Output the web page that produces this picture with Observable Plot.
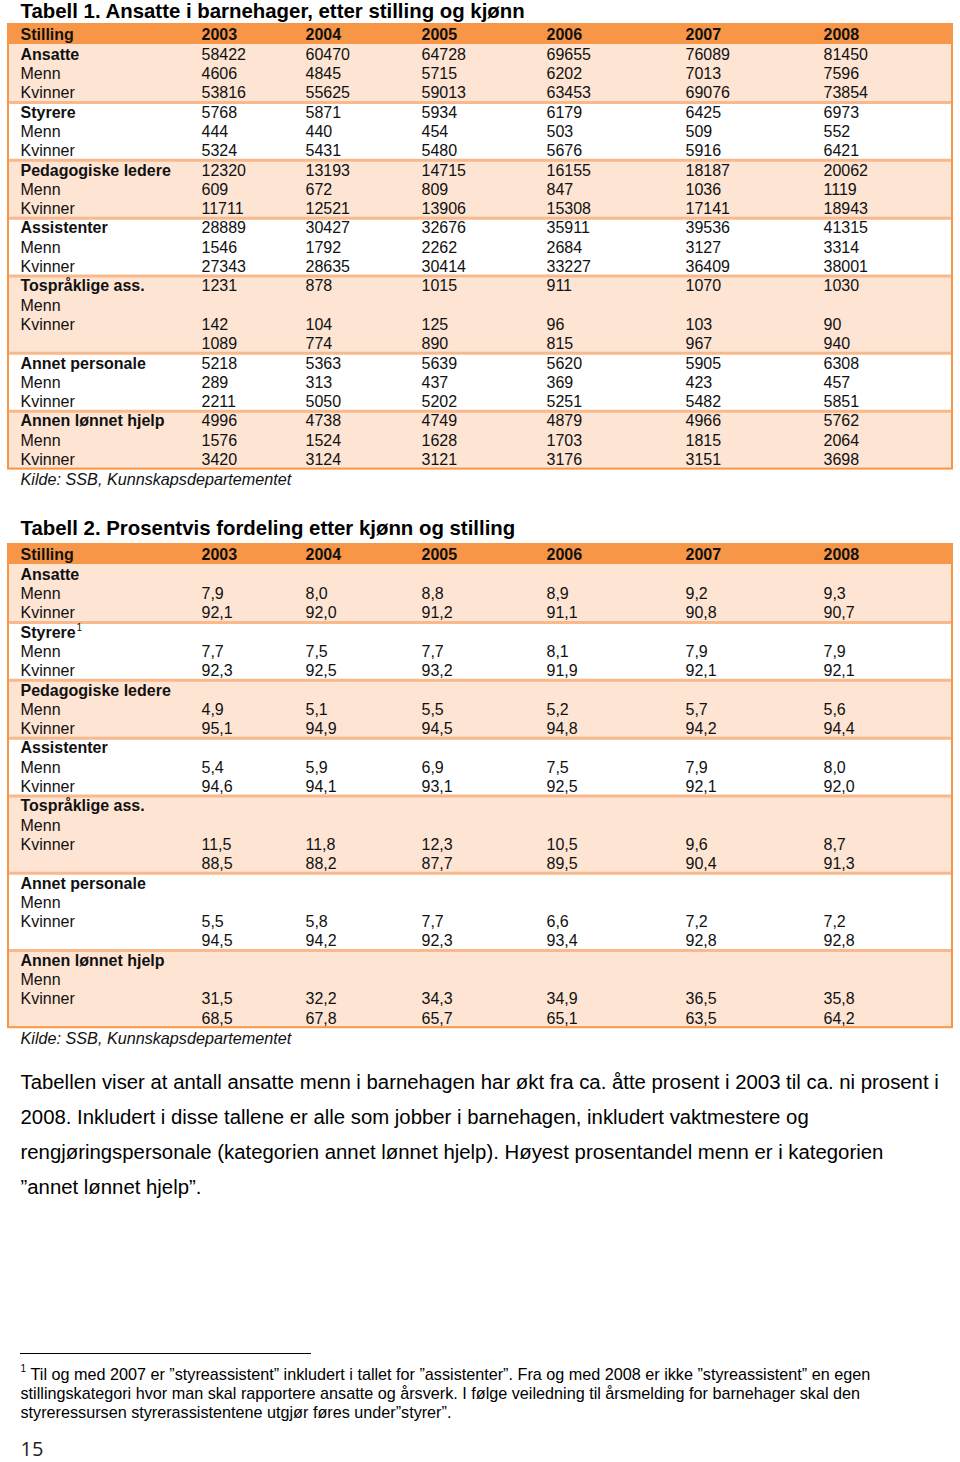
<!DOCTYPE html>
<html>
<head>
<meta charset="utf-8">
<script src="https://cdn.jsdelivr.net/npm/d3@7"></script>
<script src="https://cdn.jsdelivr.net/npm/@observablehq/plot@0.6"></script>
<style>
  html, body { margin: 0; padding: 0; background: #fff; }
  #chart svg { display: block; }
</style>
</head>
<body>
<div id="chart"></div>
<script>
// ---------- DATA ----------
const years = ["2003", "2004", "2005", "2006", "2007", "2008"];
const categories = ["Ansatte", "Styrere", "Pedagogiske ledere", "Assistenter", "Tospråklige ass.", "Annet personale", "Annen lønnet hjelp"];
const subLabels = ["Menn", "Kvinner"];

// Tabell 1 (antall)
const t1Total = [
  [58422, 60470, 64728, 69655, 76089, 81450],
  [5768, 5871, 5934, 6179, 6425, 6973],
  [12320, 13193, 14715, 16155, 18187, 20062],
  [28889, 30427, 32676, 35911, 39536, 41315],
  [1231, 878, 1015, 911, 1070, 1030],
  [5218, 5363, 5639, 5620, 5905, 6308],
  [4996, 4738, 4749, 4879, 4966, 5762]
];
const t1Menn = [
  [4606, 4845, 5715, 6202, 7013, 7596],
  [444, 440, 454, 503, 509, 552],
  [609, 672, 809, 847, 1036, 1119],
  [1546, 1792, 2262, 2684, 3127, 3314],
  [142, 104, 125, 96, 103, 90],
  [289, 313, 437, 369, 423, 457],
  [1576, 1524, 1628, 1703, 1815, 2064]
];
const t1Kvinner = [
  [53816, 55625, 59013, 63453, 69076, 73854],
  [5324, 5431, 5480, 5676, 5916, 6421],
  [11711, 12521, 13906, 15308, 17141, 18943],
  [27343, 28635, 30414, 33227, 36409, 38001],
  [1089, 774, 890, 815, 967, 940],
  [2211, 5050, 5202, 5251, 5482, 5851],
  [3420, 3124, 3121, 3176, 3151, 3698]
];

// Tabell 2 (prosent)
const t2Menn = [
  [7.9, 8.0, 8.8, 8.9, 9.2, 9.3],
  [7.7, 7.5, 7.7, 8.1, 7.9, 7.9],
  [4.9, 5.1, 5.5, 5.2, 5.7, 5.6],
  [5.4, 5.9, 6.9, 7.5, 7.9, 8.0],
  [11.5, 11.8, 12.3, 10.5, 9.6, 8.7],
  [5.5, 5.8, 7.7, 6.6, 7.2, 7.2],
  [31.5, 32.2, 34.3, 34.9, 36.5, 35.8]
];
const t2Kvinner = [
  [92.1, 92.0, 91.2, 91.1, 90.8, 90.7],
  [92.3, 92.5, 93.2, 91.9, 92.1, 92.1],
  [95.1, 94.9, 94.5, 94.8, 94.2, 94.4],
  [94.6, 94.1, 93.1, 92.5, 92.1, 92.0],
  [88.5, 88.2, 87.7, 89.5, 90.4, 91.3],
  [94.5, 94.2, 92.3, 93.4, 92.8, 92.8],
  [68.5, 67.8, 65.7, 65.1, 63.5, 64.2]
];

const title1 = "Tabell 1. Ansatte i barnehager, etter stilling og kjønn";
const title2 = "Tabell 2. Prosentvis fordeling etter kjønn og stilling";
const headerLabel = "Stilling";
const sourceText = "Kilde: SSB, Kunnskapsdepartementet";
const paragraphLines = [
  "Tabellen viser at antall ansatte menn i barnehagen har økt fra ca. åtte prosent i 2003 til ca. ni prosent i",
  "2008. Inkludert i disse tallene er alle som jobber i barnehagen, inkludert vaktmestere og",
  "rengjøringspersonale (kategorien annet lønnet hjelp). Høyest prosentandel menn er i kategorien",
  "”annet lønnet hjelp”."
];
const footnoteMark = "1";
const footnoteLines = [
  "Til og med 2007 er ”styreassistent” inkludert i tallet for ”assistenter”. Fra og med 2008 er ikke ”styreassistent” en egen",
  "stillingskategori hvor man skal rapportere ansatte og årsverk. I følge veiledning til årsmelding for barnehager skal den",
  "styreressursen styrerassistentene utgjør føres under”styrer”."
];
const pageNumber = "15";

// ---------- LAYOUT ----------
const FONT = "'Liberation Sans', Arial, sans-serif";
const ORANGE = "#F79646";
const PEACH = "#FDE4D3";
const SEP = "#F8B98C";
const tableLeft = 8, tableRight = 952;
const labelX = 20;
const colX = [201, 305, 421, 546, 685, 823];
const headerH = 20;
const rowH = 19.3;
// rows per group and which row each value sits on
const t1Rows = [3, 3, 3, 3, 4, 3, 3];
const t1ValueRows = [[0,1,2],[0,1,2],[0,1,2],[0,1,2],[0,2,3],[0,1,2],[0,1,2]];
const t2Rows = [3, 3, 3, 3, 4, 4, 4];
const t2ValueRows = [[1,2],[1,2],[1,2],[1,2],[2,3],[2,3],[2,3]];

const fmtPct = v => d3.format(".1f")(v).replace(".", ",");

function buildTable(top, rowsPer, valueRows, seriesList, fmt) {
  const bands = [], texts = [], seps = [];
  let y = top + headerH;
  categories.forEach((cat, g) => {
    const h = rowsPer[g] * rowH;
    bands.push({x1: tableLeft, x2: tableRight, y1: y, y2: y + h, fill: g % 2 === 0 ? PEACH : "#ffffff"});
    const rowY = r => y + rowH * (r + 0.5) + 0.5;
    texts.push({x: labelX, y: rowY(0), text: cat, bold: true});
    subLabels.forEach((s, i) => texts.push({x: labelX, y: rowY(i + 1), text: s, bold: false}));
    seriesList.forEach((series, si) => {
      series[g].forEach((v, c) => {
        texts.push({x: colX[c], y: rowY(valueRows[g][si]), text: fmt(v), bold: false});
      });
    });
    y += h;
    if (g < categories.length - 1) seps.push({y, x1: tableLeft, x2: tableRight});
  });
  const header = [{x1: tableLeft, x2: tableRight, y1: top, y2: top + headerH}];
  const headerTexts = [{x: labelX, y: top + headerH / 2 + 0.5, text: headerLabel}]
    .concat(years.map((yr, c) => ({x: colX[c], y: top + headerH / 2 + 0.5, text: yr})));
  const frame = [{x1: tableLeft, x2: tableRight, y1: top, y2: y}];
  return {bands, texts, seps, header, headerTexts, frame, bottom: y};
}

const T1 = buildTable(24, t1Rows, t1ValueRows, [t1Total, t1Menn, t1Kvinner], v => String(v));
const T2 = buildTable(544, t2Rows, t2ValueRows, [t2Menn, t2Kvinner], fmtPct);

function tableMarks(T) {
  return [
    Plot.rect(T.bands, {x1: "x1", x2: "x2", y1: "y1", y2: "y2", fill: d => d.fill}),
    Plot.rect(T.header, {x1: "x1", x2: "x2", y1: "y1", y2: "y2", fill: ORANGE}),
    Plot.ruleY(T.seps, {y: "y", x1: "x1", x2: "x2", stroke: SEP, strokeWidth: 3}),
    Plot.rect(T.frame, {x1: "x1", x2: "x2", y1: "y1", y2: "y2", fill: "none", stroke: ORANGE, strokeWidth: 2}),
    Plot.text(T.headerTexts, {x: "x", y: "y", text: "text", textAnchor: "start", lineAnchor: "middle", fontSize: 16, fontWeight: "bold", fill: "#111"}),
    Plot.text(T.texts.filter(d => d.bold), {x: "x", y: "y", text: "text", textAnchor: "start", lineAnchor: "middle", fontSize: 16, fontWeight: "bold", fill: "#111"}),
    Plot.text(T.texts.filter(d => !d.bold), {x: "x", y: "y", text: "text", textAnchor: "start", lineAnchor: "middle", fontSize: 16, fill: "#111"})
  ];
}

const titles = [
  {x: 20, y: 11, text: title1},
  {x: 20, y: 528, text: title2}
];
const sources = [
  {x: 20, y: T1.bottom + 11, text: sourceText},
  {x: 20, y: T2.bottom + 11, text: sourceText}
];
const paraData = paragraphLines.map((t, i) => ({x: 20, y: 1082 + i * 35, text: t}));
const footData = footnoteLines.map((t, i) => ({x: i === 0 ? 30 : 20, y: 1374 + i * 19, text: t}));

const chart = Plot.plot({
  width: 960,
  height: 1462,
  margin: 0,
  x: {type: "identity", axis: null},
  y: {type: "identity", axis: null},
  style: {fontFamily: FONT, background: "#ffffff"},
  marks: [
    ...tableMarks(T1),
    ...tableMarks(T2),
    // superscript on Styrere in table 2
    Plot.text([{x: 76, y: 627, text: footnoteMark}], {x: "x", y: "y", text: "text", textAnchor: "start", lineAnchor: "middle", fontSize: 10, fill: "#111"}),
    Plot.text(titles, {x: "x", y: "y", text: "text", textAnchor: "start", lineAnchor: "middle", fontSize: 20.4, fontWeight: "bold", fill: "#000"}),
    Plot.text(sources, {x: "x", y: "y", text: "text", textAnchor: "start", lineAnchor: "middle", fontSize: 16.2, fontStyle: "italic", fill: "#111"}),
    Plot.text(paraData, {x: "x", y: "y", text: "text", textAnchor: "start", lineAnchor: "middle", fontSize: 20.35, fill: "#000"}),
    Plot.ruleY([{y: 1353, x1: 20, x2: 311}], {y: "y", x1: "x1", x2: "x2", stroke: "#000", strokeWidth: 1}),
    Plot.text([{x: 20, y: 1368, text: footnoteMark}], {x: "x", y: "y", text: "text", textAnchor: "start", lineAnchor: "middle", fontSize: 10, fill: "#000"}),
    Plot.text(footData, {x: "x", y: "y", text: "text", textAnchor: "start", lineAnchor: "middle", fontSize: 16.2, fill: "#000"}),
    Plot.text([{x: 20, y: 1449, text: pageNumber}], {x: "x", y: "y", text: "text", textAnchor: "start", lineAnchor: "middle", fontSize: 20, fontFamily: "'Open Sans', Lato, sans-serif", fill: "#222"})
  ]
});
document.getElementById("chart").appendChild(chart);
</script>
</body>
</html>
